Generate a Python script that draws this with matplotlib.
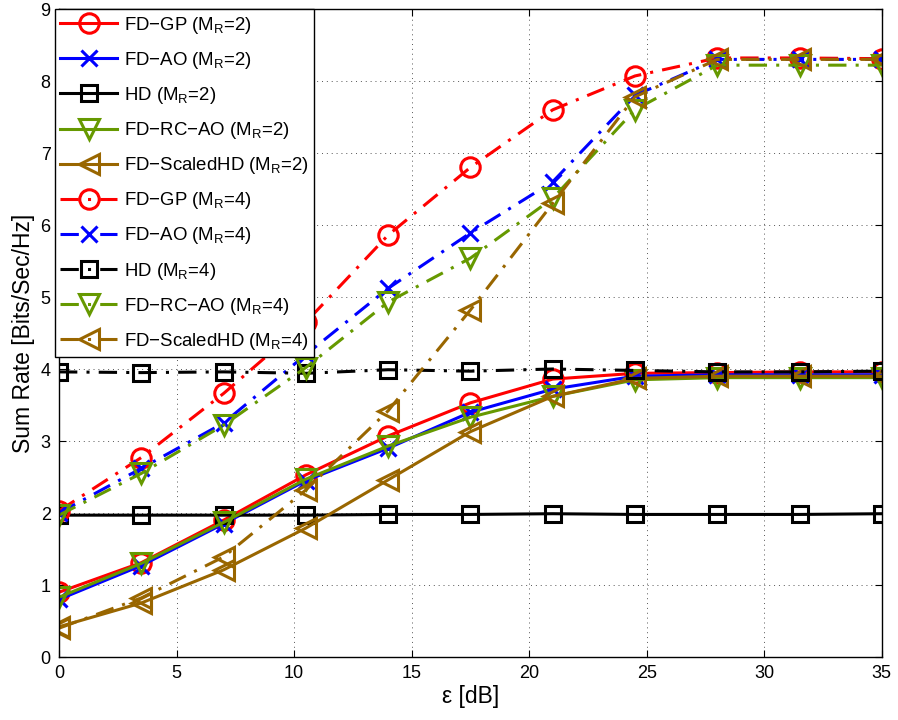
import matplotlib
matplotlib.use("Agg")
import matplotlib.pyplot as plt

x = [0, 3.5, 7, 10.5, 14, 17.5, 21, 24.5, 28, 31.5, 35]

gp2 = [0.90, 1.31, 1.90, 2.53, 3.07, 3.53, 3.86, 3.94, 3.95, 3.96, 3.96]
ao2 = [0.80, 1.27, 1.85, 2.45, 2.90, 3.40, 3.72, 3.90, 3.92, 3.92, 3.92]
hd2 = [1.97, 1.97, 1.97, 1.97, 1.98, 1.98, 1.99, 1.98, 1.98, 1.98, 1.99]
rc2 = [0.83, 1.30, 1.87, 2.47, 2.93, 3.33, 3.62, 3.85, 3.88, 3.88, 3.88]
sh2 = [0.42, 0.75, 1.21, 1.79, 2.46, 3.13, 3.62, 3.87, 3.90, 3.90, 3.90]

gp4 = [2.03, 2.77, 3.66, 4.65, 5.86, 6.80, 7.60, 8.07, 8.32, 8.32, 8.31]
ao4 = [2.00, 2.62, 3.25, 4.20, 5.12, 5.89, 6.60, 7.80, 8.30, 8.30, 8.30]
hd4 = [3.96, 3.95, 3.96, 3.94, 3.99, 3.97, 4.00, 3.98, 3.96, 3.96, 3.97]
rc4 = [1.97, 2.55, 3.22, 4.02, 4.93, 5.54, 6.37, 7.60, 8.22, 8.22, 8.22]
sh4 = [0.40, 0.82, 1.39, 2.32, 3.42, 4.82, 6.30, 7.78, 8.30, 8.30, 8.30]

labels = ["FD\u2212GP ($\\mathregular{M_R}$=2)", "FD\u2212AO ($\\mathregular{M_R}$=2)",
          "HD ($\\mathregular{M_R}$=2)", "FD\u2212RC\u2212AO ($\\mathregular{M_R}$=2)",
          "FD\u2212ScaledHD ($\\mathregular{M_R}$=2)",
          "FD\u2212GP ($\\mathregular{M_R}$=4)", "FD\u2212AO ($\\mathregular{M_R}$=4)",
          "HD ($\\mathregular{M_R}$=4)", "FD\u2212RC\u2212AO ($\\mathregular{M_R}$=4)",
          "FD\u2212ScaledHD ($\\mathregular{M_R}$=4)"]

red, blue, black, green, brown = "#ff0000", "#0000ff", "#000000", "#669900", "#996600"

plt.rcParams['font.family'] = ['Liberation Sans', 'DejaVu Sans']
plt.rcParams['mathtext.fontset'] = 'custom'
plt.rcParams['mathtext.rm'] = 'Liberation Sans'
plt.rcParams['mathtext.it'] = 'Liberation Sans:italic'

fig = plt.figure(figsize=(8.98, 7.2), dpi=100)
ax = fig.add_axes([0.0657, 0.0875, 0.9163, 0.9])

lw = 2.2
series = [
    (gp2, red, 'o', '-', 14),
    (ao2, blue, 'x', '-', 11),
    (hd2, black, 's', '-', 12),
    (rc2, green, 'v', '-', 15),
    (sh2, brown, '<', '-', 15),
    (gp4, red, 'o', '-.', 14),
    (ao4, blue, 'x', '-.', 11),
    (hd4, black, 's', '-.', 12),
    (rc4, green, 'v', '-.', 15),
    (sh4, brown, '<', '-.', 15),
]
for (ys, c, m, ls, ms), lab in zip(series, labels):
    ax.plot(x, ys, color=c, marker=m, linestyle=ls, linewidth=lw, markersize=ms,
            markerfacecolor='none', markeredgecolor=c, markeredgewidth=2.2, label=lab,
            dashes=(6, 3, 1, 3) if ls == '-.' else (None, None))

ax.set_xlim(0, 35)
ax.set_ylim(0, 9)
ax.set_xticks(range(0, 36, 5))
ax.set_yticks(range(0, 10))
ax.grid(True, linestyle=(0, (1, 4)), color='#555555', linewidth=0.7)
ax.tick_params(direction='in', top=True, right=True, labelsize=13, length=5, pad=6)
for s in ax.spines.values():
    s.set_linewidth(1.0)
ax.set_xlabel("\u03b5 [dB]", fontsize=16.5, labelpad=2)
ax.set_ylabel("Sum Rate [Bits/Sec/Hz]", fontsize=16.5, labelpad=4)

leg = ax.legend(loc='upper left', bbox_to_anchor=(-0.005, 1.0), fontsize=13.4,
                frameon=True, fancybox=False, edgecolor='black', framealpha=1,
                handlelength=3.05, labelspacing=0.76, borderpad=0.3, handletextpad=0.35,
                borderaxespad=0.0)
leg.get_frame().set_linewidth(1.0)

fig.savefig("out.png", dpi=100)
